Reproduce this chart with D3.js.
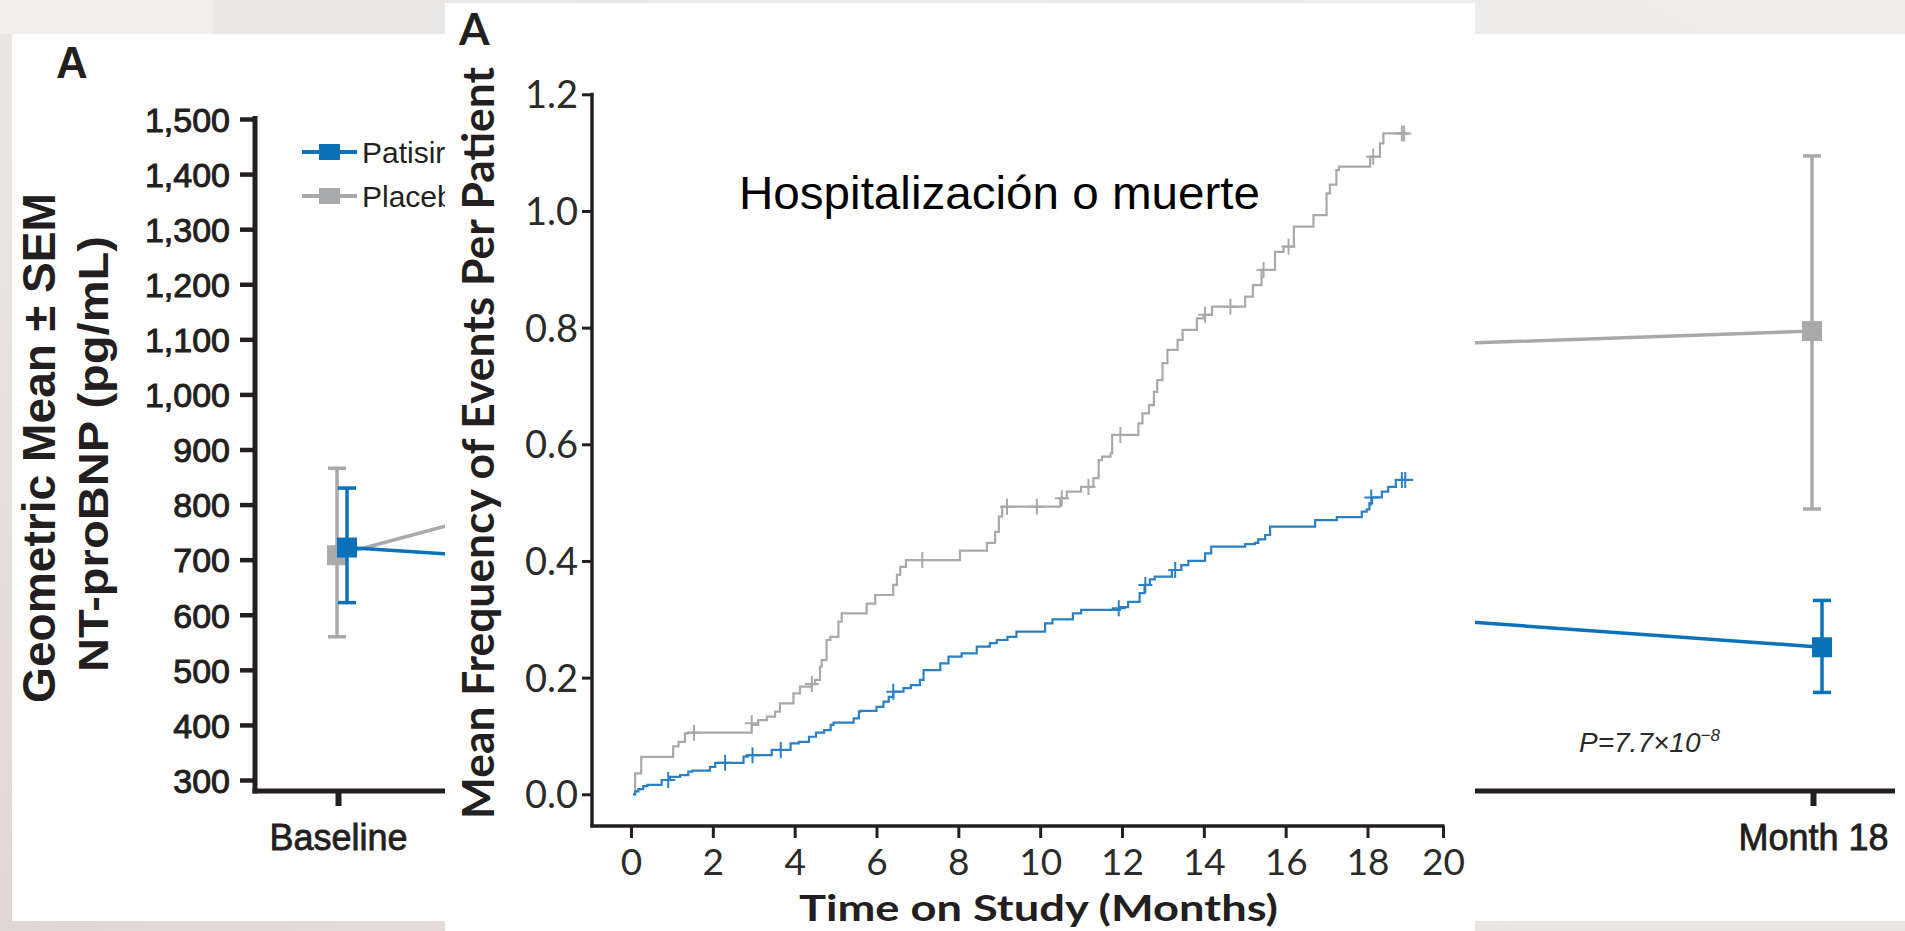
<!DOCTYPE html>
<html><head><meta charset="utf-8">
<script src="https://cdn.jsdelivr.net/npm/d3@7"></script>
<style>html,body{margin:0;padding:0;overflow:hidden;background:#e9e7e5}</style>
</head><body><svg id="c" width="1905" height="931"></svg>
<script>
// ---------- Back chart (NT-proBNP) ----------
const visits = ["Baseline", "Month 9", "Month 18"];
const visibleVisitLabels = ["Baseline", "Month 18"];
const nbTicks = [300, 400, 500, 600, 700, 800, 900, 1000, 1100, 1200, 1300, 1400, 1500];
const placeboMean = [708, 1068, 1115];
const placeboLo   = [560, 960, 792];
const placeboHi   = [866, 1180, 1433];
const patisiranMean = [722, 637, 541];
const patisiranLo   = [622, 570, 459];
const patisiranHi   = [830, 712, 626];
const legendLabels = ["Patisiran", "Placebo"];

// ---------- Front chart (mean frequency of events) ----------
const monthTicks = [0, 2, 4, 6, 8, 10, 12, 14, 16, 18, 20];
const freqTicks = [0, 0.2, 0.4, 0.6, 0.8, 1.0, 1.2];
const placeboTime = [0.05,0.1,0.25,1.03,1.16,1.32,1.4,2.95,3.11,3.32,3.52,3.64,3.97,4.13,4.42,4.5,4.62,4.66,4.78,4.87,5.07,5.15,5.76,5.97,6.41,6.5,6.58,6.72,8.04,8.7,8.9,8.99,9.07,10.49,10.65,11.0,11.3,11.43,11.51,11.72,11.76,12.4,12.5,12.66,12.78,12.86,12.99,13.11,13.36,13.48,13.83,14.0,14.2,15.01,15.2,15.41,15.74,15.95,16.2,16.68,17.0,17.08,17.24,17.3,18.07,18.33,18.42,19.06];
const placeboFreq = [0,0.036,0.064,0.082,0.09,0.1045,0.1056,0.119,0.127,0.133,0.1416,0.156,0.173,0.1845,0.189,0.196,0.219,0.23,0.2645,0.27,0.296,0.31,0.327,0.3417,0.359,0.376,0.39,0.4015,0.4176,0.431,0.45,0.476,0.493,0.5075,0.519,0.527,0.542,0.573,0.579,0.5845,0.616,0.636,0.653,0.667,0.69,0.71,0.739,0.762,0.779,0.796,0.816,0.822,0.836,0.853,0.873,0.899,0.93,0.939,0.973,0.993,1.03,1.045,1.07,1.076,1.093,1.116,1.133,1.133];
const patisiranTime = [0.05,0.1,0.18,0.3,0.4,0.75,0.95,1.2,1.4,1.5,1.93,2.06,2.75,2.85,3.44,3.9,4.1,4.35,4.52,4.72,4.88,4.95,5.44,5.57,5.6,6.0,6.17,6.3,6.41,6.66,6.84,7.06,7.15,7.56,7.76,8.08,8.45,8.77,8.94,9.2,9.42,10.12,10.3,10.8,11.0,11.95,12.15,12.43,12.55,12.68,12.8,13.22,13.45,13.62,14.03,14.18,15.01,15.25,15.33,15.5,15.62,16.72,17.25,17.86,17.98,18.05,18.12,18.38,18.55,18.75,19.21];
const patisiranFreq = [0,0.005,0.009,0.014,0.016,0.0245,0.03,0.033,0.039,0.0405,0.047,0.054,0.0645,0.067,0.076,0.0874,0.09,0.0987,0.1056,0.11,0.119,0.123,0.13,0.1416,0.143,0.15,0.159,0.167,0.176,0.182,0.187,0.196,0.213,0.2246,0.236,0.2417,0.253,0.259,0.2645,0.27,0.279,0.293,0.3,0.31,0.316,0.321,0.33,0.345,0.359,0.3686,0.373,0.3845,0.393,0.4,0.413,0.4245,0.429,0.431,0.437,0.4445,0.459,0.47,0.475,0.4845,0.4886,0.499,0.509,0.519,0.527,0.539,0.539];
const placeboCensTime = [1.54,2.95,4.42,7.12,9.19,9.92,10.53,11.18,11.96,14.03,14.65,15.46,16.07,18.15,18.91,18.97];
const placeboCensFreq = [0.1056,0.122,0.189,0.4015,0.493,0.493,0.5075,0.527,0.616,0.822,0.836,0.899,0.939,1.093,1.133,1.133];
const patisiranCensTime = [0.91,2.3,2.97,3.66,6.41,11.92,12.57,13.3,18.1,18.91,19.0];
const patisiranCensFreq = [0.0245,0.054,0.067,0.076,0.176,0.319,0.359,0.3845,0.509,0.539,0.539];

const BLUE_B = "#0b72b9", GRAY_B = "#a7a9ab";
const BLUE_F = "#2a80c4", GRAY_F = "#a9a9a9";
const INK = "#231f20";

const svg = d3.select("#c");
const defs = svg.append("defs");
const grad = defs.append("linearGradient").attr("id","bg").attr("x1","1").attr("y1","0").attr("x2","0").attr("y2","1");
grad.append("stop").attr("offset","0").attr("stop-color","#eeedeb");
grad.append("stop").attr("offset","0.6").attr("stop-color","#e8e5e3");
grad.append("stop").attr("offset","1").attr("stop-color","#e2d6d5");
svg.append("rect").attr("width",1905).attr("height",931).attr("fill","url(#bg)");
svg.append("rect").attr("x",0).attr("y",0).attr("width",213).attr("height",34).attr("fill","#f1f0ee");

// back panel
svg.append("rect").attr("x",12).attr("y",34).attr("width",1893).attr("height",887).attr("fill","#fff");

const gB = svg.append("g");
const xB = d3.scalePoint().domain(visits).range([338, 1813]);
const yB = d3.scaleLinear().domain([300, 1500]).range([780, 119]);
const axisYB = 791, axisXB = 255;

const yAxB = gB.append("g").attr("transform", `translate(${axisXB},0)`)
  .call(d3.axisLeft(yB).tickValues(nbTicks).tickFormat(d3.format(",")).tickSize(15).tickPadding(10));
yAxB.select(".domain").remove();
yAxB.selectAll(".tick line").attr("stroke", INK).attr("stroke-width", 4.5);
yAxB.selectAll(".tick text").attr("font-family","'Liberation Sans',Arial,sans-serif").attr("font-size",34)
  .attr("fill", INK).attr("stroke", INK).attr("stroke-width", 1).attr("dy","0.36em");

const xAxB = gB.append("g").attr("transform", `translate(0,${axisYB})`)
  .call(d3.axisBottom(xB).tickSize(15));
xAxB.select(".domain").remove();
xAxB.selectAll(".tick line").attr("stroke", INK).attr("stroke-width", 6);
xAxB.selectAll(".tick text").filter(d => !visibleVisitLabels.includes(d)).remove();
xAxB.selectAll(".tick text").attr("y", 59).attr("dy", null)
  .attr("font-family","'Liberation Sans',Arial,sans-serif").attr("font-size",36)
  .attr("fill", INK).attr("stroke", INK).attr("stroke-width", 0.8);

gB.append("line").attr("x1",axisXB).attr("x2",axisXB).attr("y1",yB(1500)-3).attr("y2",axisYB+2.5)
  .attr("stroke",INK).attr("stroke-width",5);
gB.append("line").attr("x1",axisXB-2.5).attr("x2",1895).attr("y1",axisYB).attr("y2",axisYB)
  .attr("stroke",INK).attr("stroke-width",5);

// Y title
const yt = gB.append("g").attr("font-family","'Liberation Sans',Arial,sans-serif").attr("font-weight","bold").attr("fill",INK);
yt.append("text").attr("transform","translate(55,448) rotate(-90)").attr("text-anchor","middle")
  .attr("font-size",46).attr("textLength",510).attr("lengthAdjust","spacingAndGlyphs").text("Geometric Mean ± SEM");
yt.append("text").attr("transform","translate(108,454) rotate(-90)").attr("text-anchor","middle")
  .attr("font-size",43).attr("textLength",436).attr("lengthAdjust","spacingAndGlyphs").text("NT-proBNP (pg/mL)");

gB.append("text").attr("x",56).attr("y",78).attr("font-family","'Liberation Sans',Arial,sans-serif")
  .attr("font-weight","bold").attr("font-size",44).attr("fill",INK).text("A");

function drawSeries(mean, lo, hi, color, off) {
  const pts = visits.map((v,i)=>({v, m:mean[i], lo:lo[i], hi:hi[i]}));
  const g = gB.append("g");
  g.append("path").datum(pts).attr("fill","none").attr("stroke",color).attr("stroke-width",3.5)
    .attr("d", d3.line().x(d=>xB(d.v)+off).y(d=>yB(d.m)));
  const eb = g.selectAll(".eb").data(pts).enter().append("g");
  eb.append("line").attr("x1",d=>xB(d.v)+off).attr("x2",d=>xB(d.v)+off)
    .attr("y1",d=>yB(d.lo)).attr("y2",d=>yB(d.hi)).attr("stroke",color).attr("stroke-width",3.5);
  [d=>yB(d.lo), d=>yB(d.hi)].forEach(fy=>{
    eb.append("line").attr("x1",d=>xB(d.v)+off-9).attr("x2",d=>xB(d.v)+off+9)
      .attr("y1",fy).attr("y2",fy).attr("stroke",color).attr("stroke-width",3.5);
  });
  eb.append("rect").attr("x",d=>xB(d.v)+off-10).attr("y",d=>yB(d.m)-10)
    .attr("width",20).attr("height",20).attr("fill",color);
}
drawSeries(placeboMean, placeboLo, placeboHi, GRAY_B, -1);
drawSeries(patisiranMean, patisiranLo, patisiranHi, BLUE_B, 9);

// legend
const leg = gB.append("g");
[[legendLabels[0], BLUE_B, 152],[legendLabels[1], GRAY_B, 196]].forEach(([t,c,y])=>{
  leg.append("line").attr("x1",302).attr("x2",357).attr("y1",y).attr("y2",y).attr("stroke",c).attr("stroke-width",4);
  leg.append("rect").attr("x",319).attr("y",y-8).attr("width",21).attr("height",16).attr("fill",c);
  leg.append("text").attr("x",362).attr("y",y+10.5).attr("font-family","'Liberation Sans',Arial,sans-serif")
    .attr("font-size",30).attr("fill",INK).text(t);
});

// P value
const pt = gB.append("text").attr("x",1579).attr("y",752).attr("font-family","'Liberation Sans',Arial,sans-serif")
  .attr("font-size",28).attr("font-style","italic").attr("fill","#2a2a2a");
pt.append("tspan").text("P");
pt.append("tspan").text("=7.7×10");
pt.append("tspan").attr("font-size",17).attr("dy",-11).text("−8");

// ---------- Front panel ----------
svg.append("rect").attr("x",445).attr("y",3).attr("width",1030).attr("height",928).attr("fill","#fff");
const gF = svg.append("g");
const xF = d3.scaleLinear().domain([0, 18, 20]).range([631, 1367.5, 1443]);
const yF = d3.scaleLinear().domain([0, 1.2]).range([794.3, 94.3]);
const axisYF = 826, axisXF = 592;
const FONT_F = "Lato,'Open Sans',sans-serif";

const xAxF = gF.append("g").attr("transform",`translate(0,${axisYF})`)
  .call(d3.axisBottom(xF).tickValues(monthTicks).tickFormat(d3.format("d")).tickSize(12));
xAxF.select(".domain").remove();
xAxF.selectAll(".tick line").attr("stroke",INK).attr("stroke-width",3);
xAxF.selectAll(".tick text").attr("y",49).attr("dy",null).attr("font-family",FONT_F)
  .attr("font-size",37).attr("fill","#2b2b2b");

const yAxF = gF.append("g").attr("transform",`translate(${axisXF},0)`)
  .call(d3.axisLeft(yF).tickValues(freqTicks).tickFormat(d3.format(".1f")).tickSize(10).tickPadding(4));
yAxF.select(".domain").remove();
yAxF.selectAll(".tick line").attr("stroke",INK).attr("stroke-width",3);
yAxF.selectAll(".tick text").attr("dy","0.36em").attr("font-family",FONT_F)
  .attr("font-size",38).attr("fill","#2b2b2b");

gF.append("line").attr("x1",axisXF).attr("x2",axisXF).attr("y1",yF(1.2)-1.5).attr("y2",axisYF+1.5)
  .attr("stroke",INK).attr("stroke-width",3.5);
gF.append("line").attr("x1",axisXF-1.5).attr("x2",xF(20)+1.5).attr("y1",axisYF).attr("y2",axisYF)
  .attr("stroke",INK).attr("stroke-width",3.5);

gF.append("text").attr("transform","translate(494,443) rotate(-90)").attr("text-anchor","middle")
  .attr("font-family",FONT_F).attr("font-weight","bold").attr("font-size",43).attr("fill",INK)
  .attr("textLength",752).attr("lengthAdjust","spacingAndGlyphs").text("Mean Frequency of Events Per Patient");
gF.append("text").attr("x",1038.5).attr("y",921).attr("text-anchor","middle")
  .attr("font-family",FONT_F).attr("font-weight","bold").attr("font-size",37).attr("fill",INK)
  .attr("textLength",479).attr("lengthAdjust","spacingAndGlyphs").text("Time on Study (Months)");
gF.append("text").attr("x",459).attr("y",45).attr("font-family",FONT_F).attr("font-weight","bold")
  .attr("font-size",44).attr("fill",INK).text("A");
gF.append("text").attr("x",739).attr("y",209).attr("font-family","'Liberation Sans',Arial,sans-serif")
  .attr("font-size",47).attr("fill","#000").attr("textLength",521).attr("lengthAdjust","spacingAndGlyphs")
  .text("Hospitalización o muerte");

const stepLine = d3.line().curve(d3.curveStepAfter).x(d=>xF(d[0])).y(d=>yF(d[1]));
function drawCurve(times, freqs, cT, cF, color) {
  const data = times.map((t,i)=>[t, freqs[i]]);
  gF.append("path").datum(data).attr("fill","none").attr("stroke",color).attr("stroke-width",2.2).attr("d",stepLine);
  const cens = cT.map((t,i)=>[t, cF[i]]);
  gF.append("g").selectAll("path").data(cens).enter().append("path")
    .attr("d", d=>{const x=xF(d[0]), y=yF(d[1]); return `M${x-7},${y}h14M${x},${y-8}v16`;})
    .attr("stroke",color).attr("stroke-width",2).attr("fill","none");
}
drawCurve(placeboTime, placeboFreq, placeboCensTime, placeboCensFreq, GRAY_F);
drawCurve(patisiranTime, patisiranFreq, patisiranCensTime, patisiranCensFreq, BLUE_F);
</script></body></html>
